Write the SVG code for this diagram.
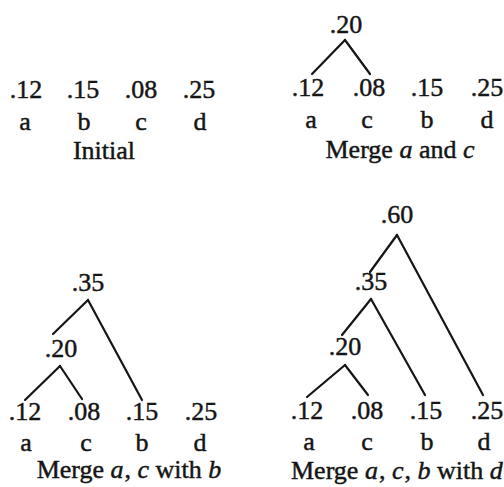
<svg xmlns="http://www.w3.org/2000/svg" width="504" height="487" viewBox="0 0 504 487">
<style>
text{font-family:"Liberation Serif","Times New Roman",serif;font-size:26px;fill:#151515;stroke:#151515;stroke-width:0.45;text-anchor:middle}
.i{font-style:italic}
.cap{text-anchor:start}
line{stroke:#151515;stroke-width:2.2;stroke-linecap:round}
</style>
<rect width="504" height="487" fill="#ffffff"/>
<!-- Panel 1: Initial -->
<g id="p1">
<g id="p1-a"><text x="26" y="98">.12</text><text x="25" y="130">a</text></g>
<g id="p1-b"><text x="83" y="98">.15</text><text x="84" y="130">b</text></g>
<g id="p1-c"><text x="141" y="98">.08</text><text x="141" y="130">c</text></g>
<g id="p1-d"><text x="199" y="98">.25</text><text x="200" y="130">d</text></g>
<text id="p1-caption" x="104" y="159">Initial</text>
</g>
<!-- Panel 2: Merge a and c -->
<g id="p2">
<g id="p2-ac"><text x="346" y="33">.20</text></g>
<g id="p2-a"><text x="308" y="96">.12</text><text x="311" y="128">a</text></g>
<g id="p2-c"><text x="369" y="96">.08</text><text x="367" y="128">c</text></g>
<g id="p2-b"><text x="427" y="96">.15</text><text x="427" y="128">b</text></g>
<g id="p2-d"><text x="487" y="96">.25</text><text x="487" y="128">d</text></g>
<text id="p2-caption" x="400" y="158">Merge <tspan class="i">a</tspan> and <tspan class="i">c</tspan></text>
</g>
<!-- Panel 3: Merge a, c with b -->
<g id="p3">
<g id="p3-acb"><text x="88" y="291">.35</text></g>
<g id="p3-ac"><text x="61" y="357">.20</text></g>
<g id="p3-a"><text x="25" y="420">.12</text><text x="26" y="451">a</text></g>
<g id="p3-c"><text x="84" y="420">.08</text><text x="86" y="451">c</text></g>
<g id="p3-b"><text x="142" y="420">.15</text><text x="142" y="451">b</text></g>
<g id="p3-d"><text x="201" y="420">.25</text><text x="200" y="451">d</text></g>
<text id="p3-caption" x="129" y="478">Merge <tspan class="i">a</tspan><tspan dx="1">,</tspan> <tspan class="i">c</tspan> with <tspan class="i">b</tspan></text>
</g>
<!-- Panel 4: Merge a, c, b with d -->
<g id="p4">
<g id="p4-acbd"><text x="397" y="223">.60</text></g>
<g id="p4-acb"><text x="371" y="290">.35</text></g>
<g id="p4-ac"><text x="345" y="355">.20</text></g>
<g id="p4-a"><text x="307" y="419">.12</text><text x="309" y="450">a</text></g>
<g id="p4-c"><text x="367" y="419">.08</text><text x="367" y="450">c</text></g>
<g id="p4-b"><text x="426" y="419">.15</text><text x="427" y="450">b</text></g>
<g id="p4-d"><text x="487" y="419">.25</text><text x="484" y="450">d</text></g>
<text id="p4-caption" class="cap" x="291" y="479">Merge <tspan class="i">a</tspan><tspan dx="1">,</tspan> <tspan class="i">c</tspan><tspan dx="1">,</tspan> <tspan class="i">b</tspan> with <tspan class="i">d</tspan></text>
</g>
<g id="connectors">
<line x1="345" y1="40" x2="312" y2="74"/>
<line x1="345" y1="40" x2="370" y2="74"/>
<line x1="88" y1="300" x2="53" y2="334"/>
<line x1="88" y1="300" x2="142" y2="400"/>
<line x1="60" y1="366" x2="25" y2="400"/>
<line x1="60" y1="366" x2="82" y2="399"/>
<line x1="397" y1="235" x2="370" y2="272"/>
<line x1="397" y1="235" x2="483" y2="395"/>
<line x1="371" y1="299" x2="342" y2="335"/>
<line x1="371" y1="299" x2="425" y2="395"/>
<line x1="345" y1="365" x2="307" y2="397"/>
<line x1="345" y1="365" x2="368" y2="395"/>
</g>
</svg>
